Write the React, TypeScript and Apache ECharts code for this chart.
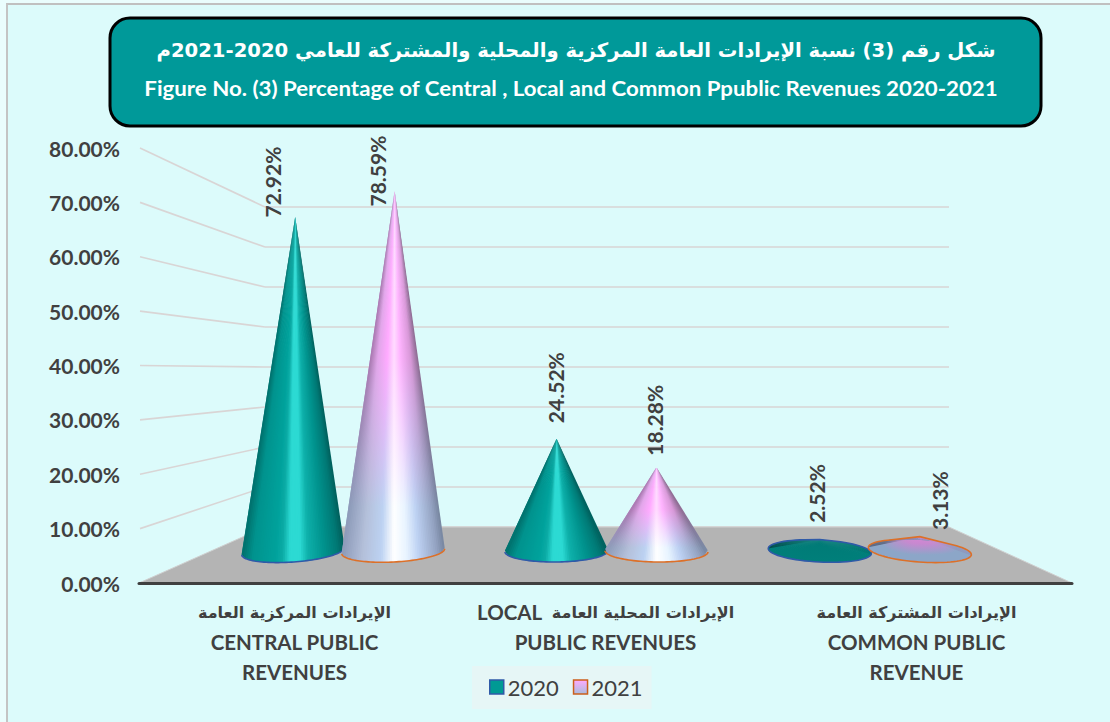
import React, { useEffect, useRef } from "react";
import * as echarts from "echarts";

const categories = [
  "الإيرادات المركزية العامة\nCENTRAL PUBLIC\nREVENUES",
  "LOCAL  الإيرادات المحلية العامة\nPUBLIC REVENUES",
  "الإيرادات المشتركة العامة\nCOMMON PUBLIC\nREVENUE",
];
const values2020 = [72.92, 24.52, 2.52];
const values2021 = [78.59, 18.28, 3.13];
const tickValues = [10, 20, 30, 40, 50, 60, 70, 80];
const titleArabic = "شكل رقم (3) نسبة الإيرادات العامة المركزية والمحلية والمشتركة للعامي 2020-2021م";
const titleEnglish = "Figure No. (3) Percentage of Central , Local and Common Ppublic Revenues 2020-2021";

type Stop = [number, string];
const teal: Stop[] = [[-1, "#00706c"], [-0.8, "#00938e"], [-0.35, "#00a29c"], [-0.22, "#0cacA6"], [-0.08, "#2cdad3"], [0.12, "#2cdad3"], [0.28, "#0eb0aa"], [0.6, "#00928d"], [0.85, "#007a76"], [1, "#005f5c"]];
const pinkTop: Stop[] = [[-1, "#a878b0"], [-0.7, "#e2a6ea"], [-0.3, "#ffaaff"], [0, "#ffdcff"], [0.25, "#ffb4ff"], [0.7, "#d898d8"], [1, "#8a6a90"]];
const blueLow: Stop[] = [[-1, "#8c9ab8"], [-0.6, "#b4c0da"], [-0.25, "#bcd2f2"], [0, "#ffffff"], [0.25, "#e8f4ff"], [0.5, "#bcd0f2"], [0.85, "#93a2c0"], [1, "#76859f"]];

const hex = (c: string) => [1, 3, 5].map((i) => parseInt(c.slice(i, i + 2), 16));
const mix = (a: string, b: string, t: number) => {
  const A = hex(a), B = hex(b);
  return "#" + A.map((v, i) => Math.round(v + (B[i] - v) * t).toString(16).padStart(2, "0")).join("");
};
const ramp = (stops: Stop[], u: number) => {
  for (let i = 1; i < stops.length; i++) {
    if (u <= stops[i][0]) {
      const [x0, c0] = stops[i - 1];
      const [x1, c1] = stops[i];
      return mix(c0, c1, Math.max(0, (u - x0) / (x1 - x0)));
    }
  }
  return stops[stops.length - 1][1];
};

const FRONT_LEFT = 139;
const FRONT_RIGHT = 1072;
const BACK_LEFT = 265;
const BACK_RIGHT = 949;
const FRONT_BOTTOM = 583;
const BACK_BOTTOM = 527;
const BACK_PER_UNIT = 4;
const MID_X = 607;
const FONT = "Lato, 'DejaVu Sans', sans-serif";

const labelNudge2020: [number, number][] = [[-23, -35], [-1, -51], [-3, -46]];
const labelNudge2021: [number, number][] = [[-17, -20], [-2, -47], [20, -36]];

const coneItem = (year: 2020 | 2021, nudges: [number, number][]) => (params: any, api: any) => {
  const cat = api.value(0);
  const val = api.value(1);
  const band = api.size([1, 0])[0];
  const sign = year === 2020 ? -1 : 1;
  const baseC = api.coord([cat, 0]);
  const top = api.coord([cat, val]);
  const cx = baseC[0] + sign * 0.19 * band;
  const cy = baseC[1];
  const rx = 0.196 * band;
  const ry = 11;
  const h = cy - top[1];
  const tilt = (((cx - MID_X) / 263) * 3.5 * Math.PI) / 180;
  const lean = ((MID_X - cx) / 150) * Math.min(1, h / 340);
  const apex = [cx + lean, top[1]];
  const pt = (th: number) => {
    const x = rx * Math.cos(th), y = ry * Math.sin(th);
    return [cx + x * Math.cos(tilt) - y * Math.sin(tilt), cy + x * Math.sin(tilt) + y * Math.cos(tilt)];
  };
  const flat = h < ry * 2;
  const flatFill = (theta: number) => {
    const p = pt(theta);
    const u = Math.cos(theta);
    const back = Math.sin(theta) < 0;
    const leftDark = back && u < 0 ? -u : 0;
    const rightDim = back && u > 0 ? u : 0;
    if (year === 2020) {
      const rim = mix(mix("#007f7a", "#004d4c", leftDark), "#006a67", rightDim * 0.5);
      return new echarts.graphic.LinearGradient(apex[0], apex[1], p[0], p[1], [
        { offset: 0, color: back ? "#00807b" : "#007a76" },
        { offset: 1, color: rim },
      ], true);
    }
    const rim = back
      ? mix(mix("#8f8fba", "#5d6a84", leftDark), "#8d9ac0", rightDim)
      : "#8ca6c8";
    return new echarts.graphic.LinearGradient(apex[0], apex[1], p[0], p[1], [
      { offset: 0, color: "#d884d8" },
      { offset: 0.28, color: "#c888d0" },
      { offset: 0.72, color: rim },
      { offset: 1, color: rim },
    ], true);
  };
  const surface = (u: number) => {
    if (year === 2020) return ramp(teal, u);
    return new echarts.graphic.LinearGradient(0, apex[1], 0, cy + ry, [
      { offset: 0, color: ramp(pinkTop, u) },
      { offset: 0.45, color: ramp(pinkTop, u) },
      { offset: 0.85, color: ramp(blueLow, u) },
      { offset: 1, color: ramp(blueLow, u) },
    ], true);
  };
  const children: any[] = [];
  const wedge = (a: number, b: number, fill: any) => {
    children.push({
      type: "polygon",
      shape: { points: [apex, pt(a), pt(b)] },
      style: { fill },
      silent: true,
    });
  };
  if (flat) {
    const N = 96;
    for (let i = 0; i < N; i++) {
      const a = (i * 2 * Math.PI) / N;
      const b = ((i + 2) * 2 * Math.PI) / N;
      wedge(a, b, flatFill((a + b) / 2));
    }
  } else {
    const delta = Math.asin(Math.min(1, ry / h));
    const N = 56;
    const uLimit = Math.cos(delta);
    const thetaAt = (i: number) => Math.acos(Math.max(-1, Math.min(1, uLimit - (2 * uLimit * i) / N)));
    for (let i = 0; i < N; i++) {
      const a = i === 0 ? -delta : thetaAt(i);
      const b = i >= N - 2 ? Math.PI + delta : thetaAt(i + 2);
      wedge(a, b, surface(uLimit - (2 * uLimit * (i + 0.5)) / N));
    }
  }
  const rim: number[][] = [];
  const flatDelta = flat && h > ry ? Math.asin(ry / h) : 0;
  const rimStart = flat ? -flatDelta : 0.03;
  const rimEnd = flat ? Math.PI + flatDelta : Math.PI - 0.03;
  for (let i = 0; i <= 60; i++) rim.push(pt(rimStart + ((rimEnd - rimStart) * i) / 60));
  if (flat) rim.push(apex, rim[0]);
  children.push({
    type: "polyline",
    shape: { points: rim },
    style: { fill: "none", stroke: year === 2020 ? "#2f5aa8" : "#dd7028", lineWidth: 1.6 },
    silent: true,
  });
  const [nx, ny] = nudges[params.dataIndex];
  children.push({
    type: "text",
    x: apex[0] + nx,
    y: apex[1] + ny,
    rotation: Math.PI / 2,
    style: {
      text: val.toFixed(2) + "%",
      font: `bold 21px ${FONT}`,
      fill: "#404040",
      align: "center",
      verticalAlign: "middle",
    },
    silent: true,
  });
  return { type: "group", children };
};

const wallItem = (_: any, api: any) => {
  const v = api.value(1);
  const front = api.coord([0, v]);
  return {
    type: "line",
    shape: { x1: FRONT_LEFT + 1, y1: front[1], x2: BACK_LEFT, y2: BACK_BOTTOM - v * BACK_PER_UNIT },
    style: { stroke: "#d9d5d5", lineWidth: 1.6 },
    silent: true,
  };
};

const floorItem = () => ({
  type: "polygon",
  shape: { points: [[FRONT_LEFT, FRONT_BOTTOM], [BACK_LEFT, BACK_BOTTOM], [BACK_RIGHT, BACK_BOTTOM], [FRONT_RIGHT, FRONT_BOTTOM]] },
  style: { fill: "#b4b4b4", stroke: "#cfcfcf", lineWidth: 1 },
  silent: true,
});

const labelFormatter = (value: string) =>
  value
    .split("\n")
    .map((line) => {
      const parts = line.split(/([\u0600-\u06FF][\u0600-\u06FF ]*[\u0600-\u06FF])/).filter((s) => s.length);
      return parts.map((p) => (/[\u0600-\u06FF]/.test(p) ? `{ar|${p}}` : `{en|${p}}`)).join("");
    })
    .join("\n");

export default function App() {
  const ref = useRef<HTMLDivElement>(null);
  useEffect(() => {
    const chart = echarts.init(ref.current!, undefined, { renderer: "svg" });
    chart.setOption({
      animation: false,
      backgroundColor: "transparent",
      grid: [
        { left: FRONT_LEFT, right: 1110 - FRONT_RIGHT, top: 148, height: FRONT_BOTTOM - 148 },
        { left: 211.5, width: 790, top: 184.6, height: 366.4 },
        { left: BACK_LEFT, right: 1110 - BACK_RIGHT, top: BACK_BOTTOM - 80 * BACK_PER_UNIT, height: 80 * BACK_PER_UNIT },
      ],
      xAxis: [
        {
          type: "category",
          gridIndex: 0,
          data: categories,
          z: 6,
          axisLine: { show: true, lineStyle: { color: "#404040", width: 3 } },
          axisTick: { show: false },
          axisLabel: {
            interval: 0,
            margin: 14,
            lineHeight: 30,
            formatter: labelFormatter,
            rich: {
              ar: { fontFamily: "'DejaVu Sans', sans-serif", fontWeight: "bold", fontSize: 16, color: "#404040", lineHeight: 30 },
              en: { fontFamily: FONT, fontWeight: "bold", fontSize: 20.5, color: "#404040", lineHeight: 30 },
            },
          },
        },
        { type: "category", gridIndex: 1, data: categories, show: false },
        { type: "value", gridIndex: 2, show: false },
      ],
      yAxis: [
        {
          type: "value",
          gridIndex: 0,
          min: 0,
          max: 80,
          interval: 10,
          axisLine: { show: false },
          axisTick: { show: false },
          splitLine: { show: false },
          axisLabel: {
            margin: 19,
            color: "#404040",
            fontFamily: FONT,
            fontWeight: "bold",
            fontSize: 21,
            formatter: (v: number) => v.toFixed(2) + "%",
          },
        },
        { type: "value", gridIndex: 1, min: 0, max: 80, show: false },
        {
          type: "value",
          gridIndex: 2,
          min: 0,
          max: 80,
          interval: 10,
          axisLine: { show: false },
          axisTick: { show: false },
          axisLabel: { show: false },
          splitLine: { show: true, lineStyle: { color: "#d9d5d5", width: 1.6 } },
        },
      ],
      legend: {
        data: [
          { name: "2020", itemStyle: { color: "#009a94", borderColor: "#2f5aa8", borderWidth: 1.5 } },
          {
            name: "2021",
            itemStyle: {
              color: new echarts.graphic.LinearGradient(0, 0, 0, 1, [
                { offset: 0, color: "#ffaaff" },
                { offset: 1, color: "#a8bcdc" },
              ]),
              borderColor: "#cc5f1c",
              borderWidth: 1.5,
            },
          },
        ],
        left: 472,
        top: 666,
        icon: "rect",
        itemWidth: 14,
        itemHeight: 14,
        itemGap: 14,
        padding: [10, 9, 11, 17],
        backgroundColor: "#e6f6f6",
        textStyle: { color: "#404040", fontFamily: FONT, fontSize: 22, padding: [0, 0, 0, -1] },
      },
      series: [
        {
          name: "walls",
          type: "custom",
          xAxisIndex: 0,
          yAxisIndex: 0,
          z: 1,
          silent: true,
          data: tickValues.map((v) => [0, v]),
          encode: { x: 0, y: 1 },
          renderItem: wallItem,
        },
        {
          name: "floor",
          type: "custom",
          xAxisIndex: 0,
          yAxisIndex: 0,
          z: 2,
          silent: true,
          data: [[0, 0]],
          encode: { x: 0, y: 1 },
          renderItem: floorItem,
        },
        {
          name: "2020",
          type: "custom",
          xAxisIndex: 1,
          yAxisIndex: 1,
          z: 4,
          itemStyle: { color: "#009a94" },
          data: values2020.map((v, i) => [i, v]),
          encode: { x: 0, y: 1 },
          renderItem: coneItem(2020, labelNudge2020),
        },
        {
          name: "2021",
          type: "custom",
          xAxisIndex: 1,
          yAxisIndex: 1,
          z: 5,
          itemStyle: { color: "#e0b0f0" },
          data: values2021.map((v, i) => [i, v]),
          encode: { x: 0, y: 1 },
          renderItem: coneItem(2021, labelNudge2021),
        },
      ],
      graphic: [
        {
          type: "group",
          z: 10,
          children: [
            {
              type: "rect",
              shape: { x: 110, y: 18, width: 931, height: 108, r: 20 },
              style: { fill: "#009999", stroke: "#000000", lineWidth: 3 },
            },
            {
              type: "text",
              x: 576,
              y: 50,
              style: {
                text: titleArabic,
                font: "bold 19.6px 'DejaVu Sans', sans-serif",
                fill: "#ffffff",
                align: "center",
                verticalAlign: "middle",
              },
            },
            {
              type: "text",
              x: 571,
              y: 88,
              scaleX: 1.113,
              style: {
                text: titleEnglish,
                font: `bold 20px ${FONT}`,
                fill: "#ffffff",
                align: "center",
                verticalAlign: "middle",
              },
            },
          ],
        },
      ],
    });
    return () => chart.dispose();
  }, []);
  return (
    <div style={{ position: "fixed", left: 0, top: 0, width: 1110, height: 722, background: "#eafdfd", overflow: "hidden" }}>
      <div
        style={{
          position: "absolute",
          left: 6,
          top: 3,
          right: 0,
          bottom: 0,
          background: "#dcfbfb",
          borderTop: "2px solid #c0c0c0",
          borderLeft: "2px solid #c4c4c4",
        }}
      />
      <div ref={ref} style={{ position: "absolute", left: 0, top: 0, width: 1110, height: 722 }} />
    </div>
  );
}
